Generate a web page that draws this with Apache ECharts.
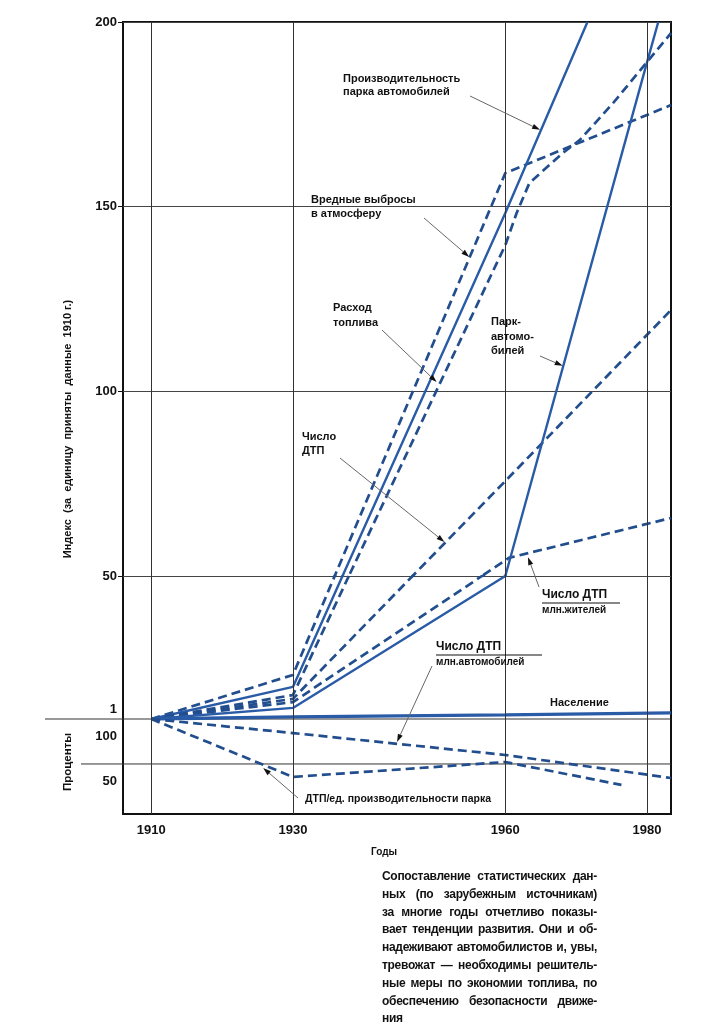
<!DOCTYPE html>
<html><head><meta charset="utf-8">
<script src="https://cdn.jsdelivr.net/npm/echarts@6/dist/echarts.min.js"></script>
<style>
html,body{margin:0;padding:0;background:#fff;}
#chart{position:absolute;left:0;top:0;width:728px;height:1035px;}
#caption{position:absolute;left:382px;top:868px;width:215px;font-family:"Liberation Sans",Arial,sans-serif;font-weight:bold;font-size:12px;letter-spacing:-0.3px;line-height:17.8px;color:#111;}
#caption .ln{display:flex;justify-content:space-between;white-space:nowrap;}
#caption .ln.last{justify-content:flex-start;}
</style></head><body>
<div id="chart"></div>
<div id="caption"></div>
<script>
// ---------- data ----------
const xTickYears = [1910, 1930, 1960, 1980];
const indexTicks = [50, 100, 150, 200];
const indexBaseTick = [1];
const percentTicks = [50, 100];

// index series (1910 = 1); points at 50 are where a line crosses the scale break
const emissions    = [[1910,1],[1930,16.1],[1935.9,50],[1960,159.1],[1983.4,177.5]];
const productivity = [[1910,1],[1930,12.0],[1937.0,50],[1960,148.3],[1971.6,200]];
const fuel         = [[1910,1],[1930,9.2],[1937.9,50],[1960,139.6],[1961.6,148.3],[1963.4,156.4],[1968.1,164.5],[1970.5,168],[1975.2,178],[1979.9,188.9],[1983.4,197]];
const accidents    = [[1910,1],[1930,7.9],[1946.9,50],[1960,75.7],[1983.4,122]];
const accPerCapita = [[1910,1],[1930,6.8],[1956.7,50],[1960.5,54.9],[1983.4,65.7]];
const carPark      = [[1910,1],[1930,4.8],[1960,50],[1980,189],[1981.6,200]];
const population   = [[1910,1],[1930,1.7],[1960,2.4],[1983.4,3.1]];
// percent series
const accPerCar    = [[1910,100],[1930,84.4],[1960,60],[1983.4,34.4]];
const accPerProd   = [[1910,100],[1930,35.6],[1960,52.2],[1976.4,26.7]];

const captionLines = [
 "Сопоставление статистических дан-",
 "ных (по зарубежным источникам)",
 "за многие годы отчетливо показы-",
 "вает тенденции развития. Они и об-",
 "надеживают автомобилистов и, увы,",
 "тревожат — необходимы решитель-",
 "ные меры по экономии топлива, по",
 "обеспечению безопасности движе-",
 "ния"
];

// ---------- caption ----------
const cap = document.getElementById('caption');
captionLines.forEach((l, i) => {
  const d = document.createElement('div');
  d.className = 'ln' + (i === captionLines.length - 1 ? ' last' : '');
  l.split(' ').forEach(w => { const s = document.createElement('span'); s.textContent = w; d.appendChild(s); });
  cap.appendChild(d);
});

// ---------- chart ----------
const FONT = '"Liberation Sans", Arial, sans-serif';
const SOLID = '#2a5ba6', DASH = '#224e8e';
const XMIN = 1906, XMAX = 1983.4;
const chart = echarts.init(document.getElementById('chart'), null, {renderer: 'canvas'});

const grids = [
  {left: 123, top: 22, width: 548, height: 792, show: true, borderColor: '#111', borderWidth: 2},
  {left: 123, top: 22, width: 548, height: 554},
  {left: 123, top: 576, width: 548, height: 143},
  {left: 123, top: 719, width: 548, height: 95}
];
const xAxes = grids.map((g, i) => ({
  type: 'value', gridIndex: i, min: XMIN, max: XMAX, show: i === 0,
  axisLine: {show: false}, axisTick: {show: false}, splitLine: {show: false},
  axisLabel: {customValues: xTickYears, formatter: v => String(v), color: '#111', fontFamily: FONT, fontWeight: 'bold', fontSize: 13, margin: 10}
}));
const labelBase = {color: '#111', fontFamily: FONT, fontWeight: 'bold', fontSize: 13, margin: 6, formatter: v => String(v)};
const yAxes = [
  {type: 'value', gridIndex: 0, min: 0, max: 1, show: false},
  {type: 'value', gridIndex: 1, min: 50, max: 200, interval: 50,
   axisLine: {show: false}, axisTick: {show: true, length: 5, lineStyle: {color: '#111'}},
   axisLabel: Object.assign({}, labelBase, {customValues: indexTicks}),
   splitLine: {show: true, lineStyle: {color: '#444', width: 1}}},
  {type: 'value', gridIndex: 2, min: 1, max: 50,
   axisLine: {show: false}, axisTick: {show: false}, splitLine: {show: false},
   axisLabel: Object.assign({}, labelBase, {customValues: indexBaseTick, verticalAlign: 'bottom', padding: [0, 0, 3, 0]})},
  {type: 'value', gridIndex: 3, min: -5.6, max: 100,
   axisLine: {show: false}, axisTick: {show: false}, splitLine: {show: false},
   axisLabel: Object.assign({}, labelBase, {customValues: percentTicks, verticalAlign: 'top', padding: [11, 0, 0, 0]})}
];

const indexDefs = [
  {name: 'Вредные выбросы в атмосферу', data: emissions, dash: true},
  {name: 'Производительность парка автомобилей', data: productivity, dash: false},
  {name: 'Расход топлива', data: fuel, dash: true},
  {name: 'Число ДТП', data: accidents, dash: true},
  {name: 'Число ДТП / млн. жителей', data: accPerCapita, dash: true},
  {name: 'Парк автомобилей', data: carPark, dash: false},
  {name: 'Население', data: population, dash: false, width: 3.3}
];
const percentDefs = [
  {name: 'Число ДТП / млн. автомобилей', data: accPerCar, dash: true},
  {name: 'ДТП / ед. производительности парка', data: accPerProd, dash: true}
];
function mkSeries(def, axisIdx) {
  return {
    type: 'line', name: def.name, data: def.data, xAxisIndex: axisIdx, yAxisIndex: axisIdx,
    showSymbol: false, symbol: 'none', clip: true, animation: false, silent: true,
    lineStyle: {color: def.dash ? DASH : SOLID, width: def.width || (def.dash ? 2.7 : 2.4),
                type: def.dash ? [9, 5] : 'solid', cap: 'butt'}
  };
}
const series = [{
  type: 'line', xAxisIndex: 0, yAxisIndex: 0, data: [[XMIN, 0]], showSymbol: false, symbol: 'none',
  lineStyle: {width: 0}, animation: false, silent: true,
  markLine: {silent: true, symbol: ['none', 'none'], label: {show: false}, animation: false,
    lineStyle: {color: '#333', width: 1, type: 'solid'},
    data: xTickYears.map(v => ({xAxis: v}))}
}];
indexDefs.forEach(d => { series.push(mkSeries(d, 1)); series.push(mkSeries(d, 2)); });
percentDefs.forEach(d => series.push(mkSeries(d, 3)));

chart.setOption({animation: false, grid: grids, xAxis: xAxes, yAxis: yAxes, series: series});

// ---------- annotations ----------
const T = (text, x, y, size) => ({
  type: 'text', z: 10,
  style: {text: text, x: x, y: y, fill: '#111', font: 'bold ' + (size || 11) + 'px ' + FONT,
          align: 'left', verticalAlign: 'middle', textAlign: 'left', textVerticalAlign: 'middle'}
});
const R = (text, x, y, size) => ({
  type: 'text', z: 10, x: x, y: y, rotation: Math.PI / 2,
  style: {text: text, x: 0, y: 0, fill: '#111', font: 'bold ' + (size || 11) + 'px ' + FONT,
          align: 'center', verticalAlign: 'middle', textAlign: 'center', textVerticalAlign: 'middle'}
});
function arrow(x1, y1, x2, y2) {
  const a = Math.atan2(y2 - y1, x2 - x1), L = 8, W = 2.6;
  const bx = x2 - L * Math.cos(a), by = y2 - L * Math.sin(a);
  const px = -Math.sin(a) * W, py = Math.cos(a) * W;
  return [
    {type: 'line', z: 9, shape: {x1: x1, y1: y1, x2: bx, y2: by}, style: {stroke: '#666', lineWidth: 1}},
    {type: 'polygon', z: 9, shape: {points: [[x2, y2], [bx + px, by + py], [bx - px, by - py]]}, style: {fill: '#111'}}
  ];
}
const px = (grid, v) => chart.convertToPixel({gridIndex: grid}, v);
const notes = [
  {lines: ['Производительность', 'парка автомобилей'], x: 343, y: 79, dy: 12.5, from: [470, 96], grid: 1, tip: [1964.9, 170.8]},
  {lines: ['Вредные выбросы', 'в атмосферу'], x: 311, y: 200, dy: 14, from: [424, 218], grid: 1, tip: [1954.9, 136.4]},
  {lines: ['Расход', 'топлива'], x: 333, y: 308, dy: 15, from: [382, 330], grid: 1, tip: [1950.3, 102.5]},
  {lines: ['Парк-', 'автомо-', 'билей'], x: 491, y: 322, dy: 14.5, from: [540, 356], grid: 1, tip: [1968.1, 106.9]},
  {lines: ['Число', 'ДТП'], x: 302, y: 437, dy: 14, from: [340, 458], grid: 1, tip: [1951.4, 59.2]},
  {lines: ['Население'], x: 550, y: 703, dy: 0},
  {lines: ['ДТП/ед. производительности парка'], x: 305, y: 799, dy: 0, size: 10.5, from: [298, 798], grid: 3, tip: [1925.8, 45.6]}
];
const fracs = [
  {top: 'Число ДТП', bottom: 'млн.жителей', x: 542, y: 595, w: 78, from: [539, 587], grid: 1, tip: [1963.2, 55.1]},
  {top: 'Число ДТП', bottom: 'млн.автомобилей', x: 436, y: 647, w: 106, from: [432, 666], grid: 3, tip: [1944.7, 74.4]}
];
const g = [];
notes.forEach(n => {
  n.lines.forEach((l, i) => g.push(T(l, n.x, n.y + i * n.dy, n.size)));
  if (n.tip) { const p = px(n.grid, n.tip); g.push(...arrow(n.from[0], n.from[1], p[0], p[1])); }
});
fracs.forEach(f => {
  g.push(T(f.top, f.x, f.y, 12));
  g.push({type: 'line', z: 9, shape: {x1: f.x, y1: f.y + 8, x2: f.x + f.w, y2: f.y + 8}, style: {stroke: '#111', lineWidth: 1.2}});
  g.push(T(f.bottom, f.x, f.y + 15, 10));
  const p = px(f.grid, f.tip); g.push(...arrow(f.from[0], f.from[1], p[0], p[1]));
});
// separator lines of the percent panel, extended to the left of the axis
const y100 = px(3, [XMIN, 100])[1], y50 = px(3, [XMIN, 50])[1];
const xR = px(3, [XMAX, 0])[0];
g.push({type: 'line', z: 1, shape: {x1: 45, y1: y100, x2: xR, y2: y100}, style: {stroke: '#333', lineWidth: 1}});
g.push({type: 'line', z: 1, shape: {x1: 81, y1: y50, x2: xR, y2: y50}, style: {stroke: '#333', lineWidth: 1}});
// axis titles
g.push(R('Индекс  (за  единицу  приняты  данные  1910 г.)', 68, 429, 11));
g.push(R('Проценты', 68, 762, 11.5));
g.push(T('Годы', 371, 852, 10));
chart.setOption({graphic: {elements: g}});
</script>
</body></html>
